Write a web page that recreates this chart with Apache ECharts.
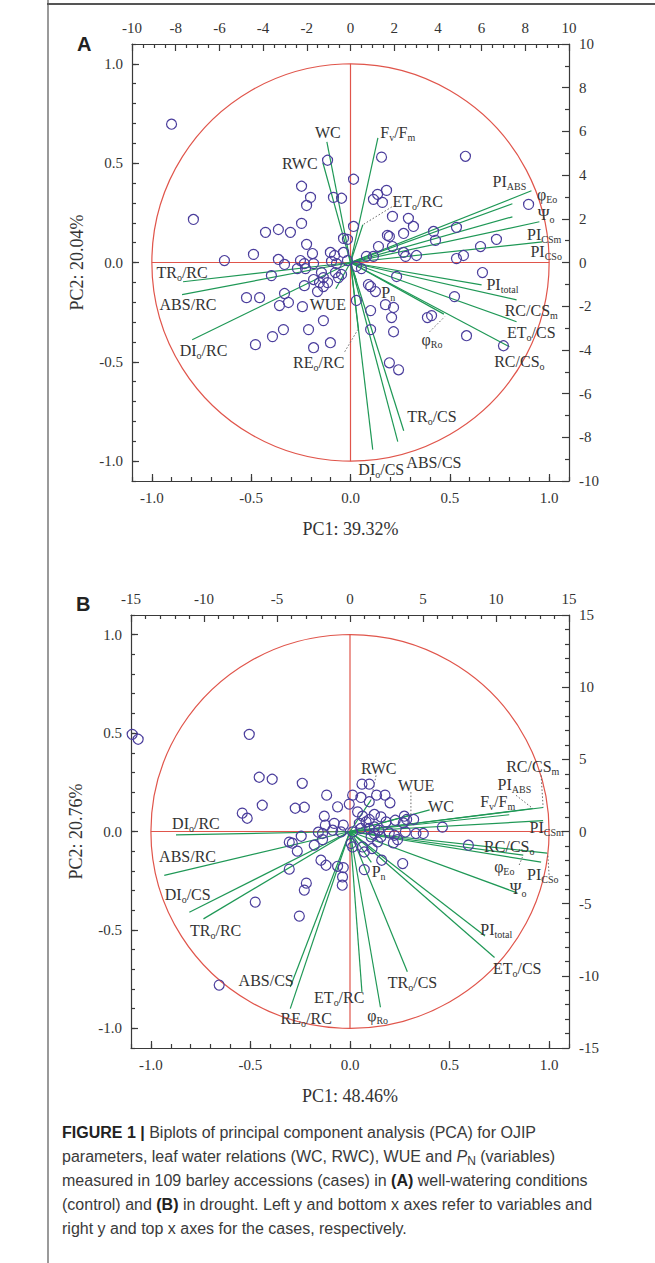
<!DOCTYPE html>
<html><head><meta charset="utf-8">
<script src="https://cdn.jsdelivr.net/npm/echarts@6/dist/echarts.min.js"></script>
<style>
html,body{margin:0;padding:0;background:#fff;}
#chart{position:absolute;left:0;top:0;width:655px;height:1263px;}
#cap{position:absolute;left:62px;top:1121px;font-family:'Liberation Sans',Arial,sans-serif;font-size:16px;line-height:24px;color:#3a3a3a;white-space:nowrap;}
#cap b{color:#222;}
#cap sub{font-size:12px;line-height:0;vertical-align:-0.25em;}
</style></head><body>
<div id="chart"></div>
<div id="cap"><b>FIGURE 1 |</b> Biplots of principal component analysis (PCA) for OJIP<br>parameters, leaf water relations (WC, RWC), WUE and <i>P</i><sub>N</sub> (variables)<br>measured in 109 barley accessions (cases) in <b>(A)</b> well-watering conditions<br>(control) and <b>(B)</b> in drought. Left y and bottom x axes refer to variables and<br>right y and top x axes for the cases, respectively.</div>
<script>
// ---------- DATA ----------
const loadingTicks = [-1, -0.5, 0, 0.5, 1];
const titlesA = ['PC1: 39.32%', 'PC2: 20.04%'];
const titlesB = ['PC1: 48.46%', 'PC2: 20.76%'];

// case scores (top / right axes)
const casesA = [
[-8.19,6.33],[-1.05,4.68],[0.14,3.81],[-2.24,3.49],[-1.83,2.98],[-2.01,2.61],[-0.78,2.98],[-0.41,2.94],[-7.19,1.97],[-2.24,1.79],[-3.89,1.38],[-3.30,1.51],[-2.75,1.38],[0.14,1.65],[-2.01,0.83],[-0.32,1.10],[-0.14,1.06],[-5.77,0.09],[-4.44,0.37],[-3.30,0.14],[-3.02,-0.09],[-2.29,0.09],[-2.11,-0.05],[-1.74,0.41],[-1.69,-0.05],[-0.92,0.46],[-0.73,0.32],[-0.32,0.46],[-0.87,0.05],[-0.64,-0.05],[-0.14,0.09],[-3.62,-0.60],[-2.43,-0.28],[-2.06,-0.28],[-2.11,-1.06],[-1.69,-0.78],[-1.33,-0.46],[-1.24,-0.69],[-1.05,-0.92],[-1.42,-0.92],[-1.24,-1.10],[-1.51,-1.33],[-0.69,-0.46],[-0.41,-0.55],[-0.55,-0.69],[-3.02,-1.42],[-4.76,-1.61],[-4.16,-1.61],[-3.25,-1.97],[-2.84,-1.83],[-2.20,-2.02],[0.27,-1.74],[-1.24,-2.66],[-3.07,-3.07],[-1.92,-3.07],[-3.57,-3.39],[-4.35,-3.76],[-1.69,-3.90],[-0.92,-3.67],
[1.42,4.82],[5.26,4.86],[1.65,3.30],[1.24,3.12],[1.05,2.89],[1.46,2.75],[1.92,2.11],[2.65,2.02],[2.88,1.65],[1.69,1.24],[1.78,1.19],[2.43,1.33],[3.80,1.42],[4.85,1.61],[3.89,1.01],[1.28,0.73],[1.92,0.73],[2.43,0.46],[2.52,0.28],[3.02,0.32],[0.73,0.28],[1.05,0.28],[4.85,0.18],[5.17,0.32],[5.95,0.73],[6.68,1.06],[8.15,2.66],[6.04,-0.46],[2.11,-0.64],[0.50,-0.28],[0.27,-0.18],[0.82,-1.01],[0.92,-1.10],[1.14,-1.33],[1.60,-1.93],[1.97,-2.06],[0.92,-2.20],[1.88,-2.52],[3.52,-2.52],[3.71,-2.43],[4.76,-1.56],[0.92,-3.07],[1.97,-3.17],[5.31,-3.35],[7.00,-3.81],[1.78,-4.59],[2.20,-4.91]
];
const casesB = [
[-14.51,6.39],[-14.92,6.73],[-6.90,6.73],[-6.22,3.76],[-5.33,3.62],[-3.27,3.34],[-6.01,1.82],[-7.38,1.27],[-7.04,0.92],[-3.75,1.61],[-3.13,1.68],[-2.17,-0.05],[-3.34,-0.33],[-4.16,-0.74],[-3.95,-0.81],[-3.61,-1.36],[-2.45,-0.95],[-4.16,-2.61],[-2.99,-3.58],[6.33,0.30],[8.11,-0.95],[-3.13,-4.06],[-6.49,-4.89],[-3.47,-5.86],[-8.96,-10.64],[-0.53,-3.72],
[0.82,3.28],[1.32,3.28],[-1.60,2.52],[0.18,2.52],[0.75,2.36],[1.82,2.52],[2.40,2.52],[2.74,1.99],[1.32,2.06],[-0.05,1.90],[-0.85,1.71],[0.52,1.36],[0.86,1.06],[1.67,1.18],[1.32,0.83],[1.10,0.67],[2.12,1.01],[2.47,0.67],[3.10,0.78],[3.72,1.06],[3.88,0.83],[4.36,0.83],[3.65,0.60],[-1.76,1.06],[-1.69,0.44],[-1.08,0.56],[-0.46,0.44],[0.64,0.56],[0.75,0.21],[1.32,0.21],[1.67,0.32],[1.96,0.09],[1.67,-0.14],[1.44,-0.37],[2.12,-0.37],[1.89,-0.72],[2.69,-0.10],[3.04,-0.26],[3.26,-0.56],[2.97,-0.79],[3.79,-0.03],[4.52,-0.14],[5.02,-0.14],[-1.88,-0.14],[-1.88,-0.56],[-1.19,0.09],[-0.62,-0.03],[0.18,-0.03],[0.07,-0.83],[0.18,-1.07],[0.86,-1.07],[1.51,-1.18],[0.98,-1.42],[-1.99,-1.99],[-1.64,-2.34],[-0.85,-2.41],[-0.46,-2.50],[-0.51,-3.15],[0.98,-2.64],[2.17,-1.99],[3.61,-2.22]
];

// variable loadings (bottom / left axes)
const varNamesA = ['WC','RWC','F{s|v}/F{s|m}','ET{s|o}/RC','PI{s|ABS}','φ{s|Eo}','Ψ{s|o}','PI{s|CSm}','PI{s|CSo}','PI{s|total}','RC/CS{s|m}','ET{s|o}/CS','RC/CS{s|o}','P{s|n}','φ{s|Ro}','TR{s|o}/CS','ABS/CS','DI{s|o}/CS','RE{s|o}/RC','WUE','TR{s|o}/RC','ABS/RC','DI{s|o}/RC'];
const varXA = [-0.119,-0.139,0.138,0.062,0.911,0.815,0.815,0.951,0.966,0.66,0.836,0.836,0.80,0.03,0.47,0.268,0.238,0.112,0.04,-0.074,-0.843,-0.848,-0.797];
const varYA = [0.607,0.502,0.627,0.19,0.361,0.296,0.23,0.205,0.104,-0.113,-0.188,-0.298,-0.424,-0.09,-0.26,-0.847,-0.902,-0.942,-0.34,-0.132,-0.097,-0.162,-0.389];
const labelXA = [-0.114,-0.255,0.238,0.338,0.80,0.99,0.985,0.975,0.985,0.765,0.91,0.91,0.85,0.19,0.41,0.41,0.42,0.155,-0.16,-0.114,-0.848,-0.818,-0.74];
const labelYA = [0.652,0.50,0.652,0.305,0.41,0.34,0.24,0.14,0.054,-0.112,-0.24,-0.354,-0.50,-0.153,-0.39,-0.776,-1.008,-1.043,-0.505,-0.213,-0.052,-0.213,-0.445];
const leadersA = [[0.208,0.28,0.062,0.19],[0.398,-0.349,0.474,-0.273],[-0.029,-0.449,0.037,-0.338]];

const varNamesB = ['DI{s|o}/RC','ABS/RC','DI{s|o}/CS','TR{s|o}/RC','ABS/CS','RE{s|o}/RC','ET{s|o}/RC','φ{s|Ro}','TR{s|o}/CS','PI{s|total}','ET{s|o}/CS','Ψ{s|o}','PI{s|CSo}','φ{s|Eo}','RC/CS{s|o}','PI{s|CSm}','F{s|v}/F{s|m}','PI{s|ABS}','RC/CS{s|m}','WC','WUE','RWC','P{s|n}'];
const varXB = [-0.874,-0.933,-0.807,-0.736,-0.30,-0.30,0.06,0.153,0.288,0.678,0.726,0.84,0.99,0.87,0.96,0.97,0.80,0.918,0.97,0.40,0.306,0.105,0.107];
const varYB = [-0.017,-0.223,-0.41,-0.444,-0.79,-0.90,-0.815,-0.893,-0.713,-0.531,-0.64,-0.312,-0.11,-0.12,-0.156,0.055,0.085,0.117,0.122,0.11,0.083,0.159,-0.157];
const labelXB = [-0.774,-0.816,-0.815,-0.675,-0.421,-0.22,-0.054,0.139,0.314,0.735,0.84,0.845,0.968,0.775,0.80,0.988,0.742,0.826,0.918,0.457,0.332,0.144,0.144];
const labelYB = [0.04,-0.129,-0.319,-0.505,-0.757,-0.951,-0.842,-0.934,-0.766,-0.496,-0.695,-0.29,-0.221,-0.18,-0.075,0.02,0.15,0.24,0.328,0.125,0.235,0.32,-0.205];
const leadersB = [[0.131,0.285,0.105,0.159],[0.306,0.20,0.306,0.083],[0.96,0.285,0.97,0.122],[0.834,0.184,0.918,0.117],[0.85,-0.17,0.87,-0.12],[1.0,-0.22,0.993,-0.112]];

// ---------- STYLE ----------
const SERIF = "'Liberation Serif','Times New Roman',serif";
const INK = '#333';
const RED = '#e0554b';
const GREEN = '#1f9856';
const BLUE = '#4a3d9c';
const lineSt = {color: '#3a3a3a', width: 1.2};

const grids = [
  {left: 132, top: 44, width: 437, height: 437},
  {left: 131, top: 615, width: 438, height: 433}
];

const xAxes = [], yAxes = [], series = [];

function panel(g, cases, names, vx, vy, lx, ly, leaders, caseMax, caseInt, minorX, minorY, titles) {
  const lab = {fontFamily: SERIF, fontSize: 15, color: INK};
  xAxes.push({gridIndex: g, type: 'value', position: 'bottom', min: -1.1, max: 1.1,
    name: titles[0], nameLocation: 'middle', nameGap: 39,
    nameTextStyle: {fontFamily: SERIF, fontSize: 18, color: INK},
    axisLine: {show: true, onZero: false, lineStyle: lineSt},
    axisTick: {show: true, inside: true, length: 7, customValues: loadingTicks, lineStyle: lineSt},
    axisLabel: Object.assign({customValues: loadingTicks, formatter: v => Number(v).toFixed(1), margin: 9}, lab),
    splitLine: {show: false}});
  xAxes.push({gridIndex: g, type: 'value', position: 'bottom', min: -1.1, max: 1.1, interval: 0.1,
    axisLine: {show: false, onZero: false}, axisTick: {show: true, inside: true, length: 4, lineStyle: lineSt},
    axisLabel: {show: false}, splitLine: {show: false}});
  xAxes.push({gridIndex: g, type: 'value', position: 'top', min: -caseMax, max: caseMax, interval: caseInt,
    axisLine: {show: true, onZero: false, lineStyle: lineSt},
    axisTick: {show: true, inside: true, length: 7, lineStyle: lineSt},
    minorTick: {show: true, splitNumber: minorX, length: 4, lineStyle: lineSt},
    axisLabel: Object.assign({margin: 9}, lab), splitLine: {show: false}, minorSplitLine: {show: false}});
  yAxes.push({gridIndex: g, type: 'value', position: 'left', min: -1.1, max: 1.1,
    name: titles[1], nameLocation: 'middle', nameGap: 46,
    nameTextStyle: {fontFamily: SERIF, fontSize: 18, color: INK},
    axisLine: {show: true, onZero: false, lineStyle: lineSt},
    axisTick: {show: true, inside: true, length: 7, customValues: loadingTicks, lineStyle: lineSt},
    axisLabel: Object.assign({customValues: loadingTicks, formatter: v => Number(v).toFixed(1), margin: 9}, lab),
    splitLine: {show: false}});
  yAxes.push({gridIndex: g, type: 'value', position: 'left', min: -1.1, max: 1.1, interval: 0.1,
    axisLine: {show: false, onZero: false}, axisTick: {show: true, inside: true, length: 4, lineStyle: lineSt},
    axisLabel: {show: false}, splitLine: {show: false}});
  yAxes.push({gridIndex: g, type: 'value', position: 'right', min: -caseMax, max: caseMax, interval: caseInt,
    axisLine: {show: true, onZero: false, lineStyle: lineSt},
    axisTick: {show: true, inside: true, length: 7, lineStyle: lineSt},
    minorTick: {show: true, splitNumber: minorY, length: 4, lineStyle: lineSt},
    axisLabel: Object.assign({margin: 10}, lab), splitLine: {show: false}, minorSplitLine: {show: false}});

  const xi = 3 * g, yi = 3 * g;
  series.push({type: 'custom', xAxisIndex: xi, yAxisIndex: yi, silent: true, z: 2, clip: false,
    data: [[0, 0]],
    renderItem: (p, api) => {
      const c = api.coord([0, 0]), e = api.coord([1, 1]);
      const rx = e[0] - c[0], ry = c[1] - e[1];
      const l = api.coord([-1, 0]), r = api.coord([1, 0]), t = api.coord([0, 1]), b = api.coord([0, -1]);
      const st = {stroke: RED, lineWidth: 1.2, fill: null};
      return {type: 'group', children: [
        {type: 'circle', x: c[0], y: c[1], scaleY: ry / rx, shape: {cx: 0, cy: 0, r: rx}, style: {stroke: RED, lineWidth: 1.2, fill: 'none'}},
        {type: 'line', shape: {x1: l[0], y1: l[1], x2: r[0], y2: r[1]}, style: st},
        {type: 'line', shape: {x1: t[0], y1: t[1], x2: b[0], y2: b[1]}, style: st}
      ]};
    }});
  series.push({type: 'custom', xAxisIndex: xi, yAxisIndex: yi, silent: true, z: 3, clip: false,
    data: vx.map((v, i) => [v, vy[i]]),
    renderItem: (p, api) => {
      const c = api.coord([0, 0]), q = api.coord([api.value(0), api.value(1)]);
      return {type: 'line', shape: {x1: c[0], y1: c[1], x2: q[0], y2: q[1]}, style: {stroke: GREEN, lineWidth: 1.2}};
    }});
  series.push({type: 'custom', xAxisIndex: xi, yAxisIndex: yi, silent: true, z: 3, clip: false,
    data: leaders,
    renderItem: (p, api) => {
      const a = api.coord([api.value(0), api.value(1)]), b = api.coord([api.value(2), api.value(3)]);
      return {type: 'line', shape: {x1: a[0], y1: a[1], x2: b[0], y2: b[1]}, style: {stroke: '#666', lineWidth: 1, lineDash: [1.5, 2]}};
    }});
  series.push({type: 'custom', xAxisIndex: xi, yAxisIndex: yi, silent: true, z: 6, clip: false,
    data: lx.map((v, i) => [v, ly[i], i]),
    renderItem: (p, api) => {
      const q = api.coord([api.value(0), api.value(1)]);
      return {type: 'text', x: q[0], y: q[1], style: {
        text: names[api.value(2)], fontFamily: SERIF, fontSize: 16, fill: INK,
        align: 'center', verticalAlign: 'middle', lineHeight: 20,
        rich: {s: {fontFamily: SERIF, fontSize: 10, fill: INK, verticalAlign: 'bottom', lineHeight: 10}}
      }};
    }});
  series.push({type: 'scatter', xAxisIndex: 3 * g + 2, yAxisIndex: 3 * g + 2, silent: true, z: 5,
    symbol: 'circle', symbolSize: 10, data: cases,
    itemStyle: {color: 'rgba(0,0,0,0)', borderColor: BLUE, borderWidth: 1.2, opacity: 1}});
}

panel(0, casesA, varNamesA, varXA, varYA, labelXA, labelYA, leadersA, 10, 2, 4, 2, titlesA);
panel(1, casesB, varNamesB, varXB, varYB, labelXB, labelYB, leadersB, 15, 5, 5, 5, titlesB);

const chart = echarts.init(document.getElementById('chart'), null, {renderer: 'svg'});
chart.setOption({
  animation: false,
  backgroundColor: '#fff',
  grid: grids,
  xAxis: xAxes,
  yAxis: yAxes,
  series: series,
  graphic: [
    {type: 'line', shape: {x1: 48, y1: 0, x2: 48, y2: 1263}, style: {stroke: '#9a9a9a', lineWidth: 2}, silent: true},
    {type: 'line', shape: {x1: 47, y1: 4, x2: 655, y2: 4}, style: {stroke: '#555', lineWidth: 2}, silent: true},
    {type: 'text', x: 77, y: 34, style: {text: 'A', font: "bold 20px 'Liberation Sans', Arial, sans-serif", fill: '#222'}},
    {type: 'text', x: 76, y: 594, style: {text: 'B', font: "bold 20px 'Liberation Sans', Arial, sans-serif", fill: '#222'}}
  ]
});
</script>
</body></html>
